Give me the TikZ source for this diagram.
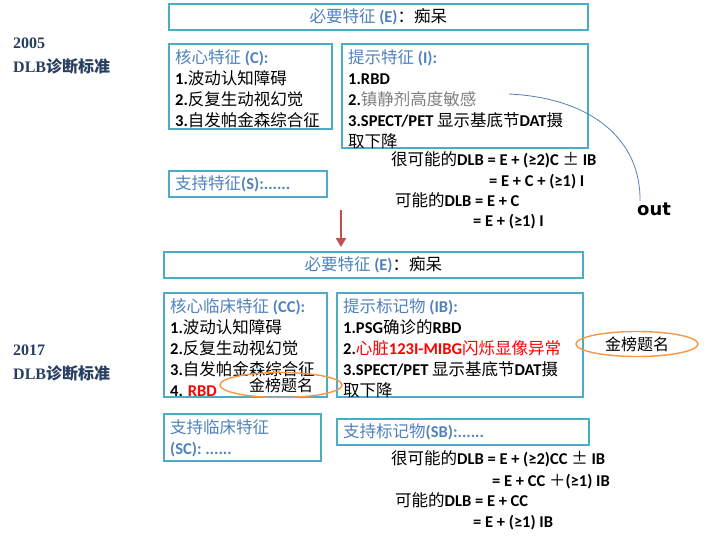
\documentclass[tikz,border=0pt]{standalone}
\usepackage{fontspec}
\usepackage{xcolor}
\usepackage{tikz}
\usetikzlibrary{positioning,shapes.geometric,arrows.meta}
\setmainfont{Carlito}
\newfontfamily\cjk{Noto Sans CJK SC}
\newfontfamily\yearfont{Liberation Serif}
\newfontfamily\outfont{DejaVu Sans}
\newcommand{\zh}[1]{{\cjk\mdseries #1}}
\definecolor{boxblue}{RGB}{75,172,198}
\definecolor{hdblue}{RGB}{79,129,189}
\definecolor{yearblue}{RGB}{40,62,95}
\definecolor{goldorange}{RGB}{247,150,70}
\definecolor{arrowred}{RGB}{192,80,77}
\definecolor{sedgray}{RGB}{128,128,128}

\begin{document}
\begin{tikzpicture}[x=1pt, y=-1pt,
    frame/.style={draw=boxblue, line width=1.6pt, anchor=north west, inner sep=0pt},
    entry/.style={anchor=north west, align=left, inner sep=0pt, font=\fontsize{16.5}{21}\selectfont\bfseries},
    formula/.style={anchor=base west, inner sep=0pt, font=\fontsize{16.5}{21}\selectfont\bfseries},
    yearlab/.style={anchor=north west, align=left, inner sep=0pt, text=yearblue, font=\fontsize{16}{24}\selectfont\yearfont\bfseries},
    gold/.style={ellipse, draw=goldorange, line width=1.4pt, minimum width=122pt, minimum height=25pt, inner sep=0pt, font=\fontsize{16}{20}\selectfont\cjk}]
    \useasboundingbox (0,0) rectangle (724,544);
    \node [yearlab] (y05) at (13,38) {2005\\DLB{\cjk 诊断标准}};
    \node [frame, minimum width=419pt, minimum height=26pt, font=\fontsize{16.5}{21}\selectfont\bfseries] (e05) at (168,3) {{\color{hdblue}\zh{必要特征} (E)}\zh{：痴呆}};
    \node [frame, minimum width=163pt, minimum height=85pt] (core05) at (168,43) {};
    \node [entry, below right=6pt and 7pt of core05.north west] (core05t) {{\color{hdblue}\zh{核心特征} (C):}\\1.\zh{波动认知障碍}\\2.\zh{反复生动视幻觉}\\3.\zh{自发帕金森综合征}};
    \node [frame, minimum width=246pt, minimum height=104pt] (hint05) at (341,43) {};
    \node [entry, below right=6pt and 7pt of hint05.north west] (hint05t) {{\color{hdblue}\zh{提示特征} (I):}\\1.RBD\\2.{\color{sedgray}\zh{镇静剂高度敏感}}\\3.SPECT/PET \zh{显示基底节}DAT\zh{摄}\\\zh{取下降}};
    \node [frame, minimum width=158pt, minimum height=26pt] (supp05) at (168,170) {};
    \node [entry, anchor=west, right=7pt of supp05.west] (supp05t) {{\color{hdblue}\zh{支持特征}(S):......}};
    \node [formula] (f05a) at (391,165) {\zh{很可能的}DLB = E + (≥2)C \zh{±} IB};
    \node [formula] (f05b) at (489,186) {= E + C + (≥1) I};
    \node [formula] (f05c) at (395,206) {\zh{可能的}DLB = E + C};
    \node [formula] (f05d) at (473,226) {= E + (≥1) I};
    \node [anchor=north west, inner sep=0pt, font=\fontsize{18}{20}\selectfont\outfont\bfseries] (out) at (637,203) {out};
    \coordinate (sed) at (509,94);
    \draw [hdblue, line width=0.8pt] (sed) .. controls (592,98) and (641,140) .. ([xshift=3pt,yshift=2pt]out.north west);
    \coordinate (arrtop) at (341,210);
    \node [yearlab] (y17) at (13,345) {2017\\DLB{\cjk 诊断标准}};
    \node [frame, minimum width=419pt, minimum height=26pt, font=\fontsize{16.5}{21}\selectfont\bfseries] (e17) at (163,251) {{\color{hdblue}\zh{必要特征} (E)}\zh{：痴呆}};
    \draw [arrowred, line width=2.4pt, -{Triangle[width=10pt,length=9pt]}] (arrtop) -- ([yshift=4pt]arrtop |- e17.north);
    \node [frame, minimum width=163pt, minimum height=104pt] (core17) at (163,292) {};
    \node [entry, below right=6pt and 7pt of core17.north west] (core17t) {{\color{hdblue}\zh{核心临床特征} (CC):}\\1.\zh{波动认知障碍}\\2.\zh{反复生动视幻觉}\\3.\zh{自发帕金森综合征}\\4. {\color{red}RBD}};
    \node [frame, minimum width=246pt, minimum height=104pt] (hint17) at (336,292) {};
    \node [entry, below right=6pt and 7pt of hint17.north west] (hint17t) {{\color{hdblue}\zh{提示标记物} (IB):}\\1.PSG\zh{确诊的}RBD\\2.{\color{red}\zh{心脏}123I-MIBG\zh{闪烁显像异常}}\\3.SPECT/PET \zh{显示基底节}DAT\zh{摄}\\\zh{取下降}};
    \node [frame, minimum width=157pt, minimum height=47pt] (supp17c) at (163,413) {};
    \node [entry, below right=6pt and 7pt of supp17c.north west] (supp17ct) {{\color{hdblue}\zh{支持临床特征}}\\{\color{hdblue}(SC): ......}};
    \node [frame, minimum width=252pt, minimum height=26pt] (supp17b) at (336,418) {};
    \node [entry, anchor=west, right=7pt of supp17b.west] (supp17bt) {{\color{hdblue}\zh{支持标记物}(SB):......}};
    \node [formula] (f17a) at (391,464) {\zh{很可能的}DLB = E + (≥2)CC \zh{±} IB};
    \node [formula] (f17b) at (492,486) {= E + CC \zh{＋}(≥1) IB};
    \node [formula] (f17c) at (395,506) {\zh{可能的}DLB = E + CC};
    \node [formula] (f17d) at (473,527) {= E + (≥1) IB};
    \node [gold] (gold1) at (281,385) {金榜题名};
    \node [gold] (gold2) at (637,344) {金榜题名};
\end{tikzpicture}
\end{document}
